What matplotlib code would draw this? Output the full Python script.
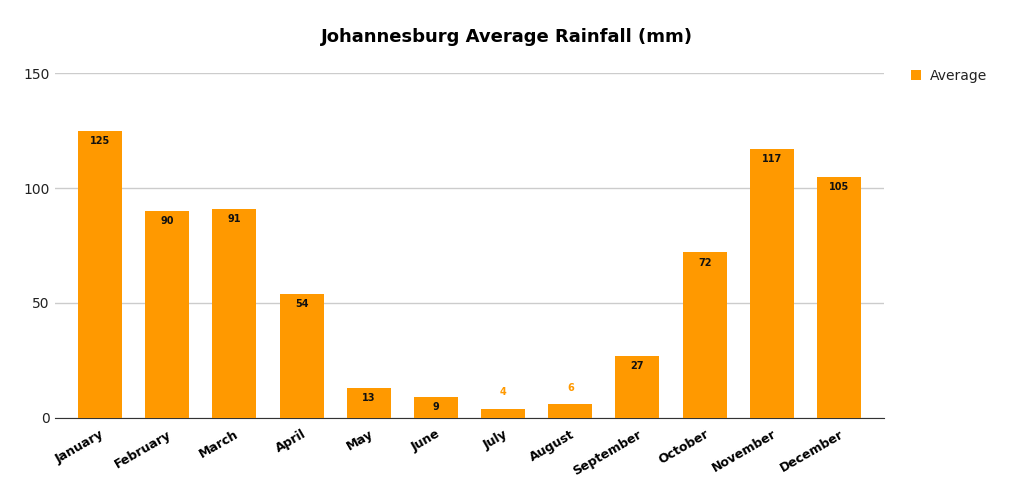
import numpy as np
import matplotlib
matplotlib.use("Agg")
import matplotlib.pyplot as plt

months = ["January", "February", "March", "April", "May", "June",
          "July", "August", "September", "October", "November", "December"]
rainfall = [125, 90, 91, 54, 13, 9, 4, 6, 27, 72, 117, 105]

ORANGE = "#ff9900"

fig = plt.figure(figsize=(10.13, 4.91), dpi=100)
ax = fig.add_axes([0.0543, 0.1487, 0.8184, 0.7026])

x = np.arange(len(months))
bars = ax.bar(x, rainfall, width=0.655, color=ORANGE, label="Average", zorder=3)

for xi, v in zip(x, rainfall):
    if v >= 8:
        ax.annotate(str(v), (xi, v), xytext=(0, -7.3), textcoords="offset points",
                    ha="center", va="center", fontsize=7, fontweight="bold", color="#111111", zorder=4)
    else:
        ax.annotate(str(v), (xi, v), xytext=(0, 12), textcoords="offset points",
                    ha="center", va="center", fontsize=7, fontweight="bold", color=ORANGE, zorder=4)

ax.set_xlim(-0.67, 11.67)
ax.set_ylim(0, 150)
ax.set_yticks([0, 50, 100, 150])
ax.yaxis.grid(True, color="#cccccc", lw=1, zorder=0)
ax.set_axisbelow(True)
for s in ["top", "right", "left"]:
    ax.spines[s].set_visible(False)
ax.spines["bottom"].set_color("#333333")
ax.tick_params(axis="y", length=0, labelsize=10, labelcolor="#222222", pad=4)
ax.tick_params(axis="x", length=0, pad=7)
ax.set_xticks(x)
ax.set_xticklabels(months, rotation=30, ha="right", rotation_mode="anchor",
                   fontsize=9, fontweight="bold")

fig.suptitle("Johannesburg Average Rainfall (mm)", x=0.5, y=0.942,
             fontsize=13, fontweight="bold")

fig.legend(handles=[bars], labels=["Average"], loc="upper left",
           bbox_to_anchor=(0.887, 0.885), frameon=False, fontsize=10,
           handlelength=0.75, handleheight=0.75, handletextpad=0.6,
           labelcolor="#222222")

fig.savefig("out.png", dpi=100)
